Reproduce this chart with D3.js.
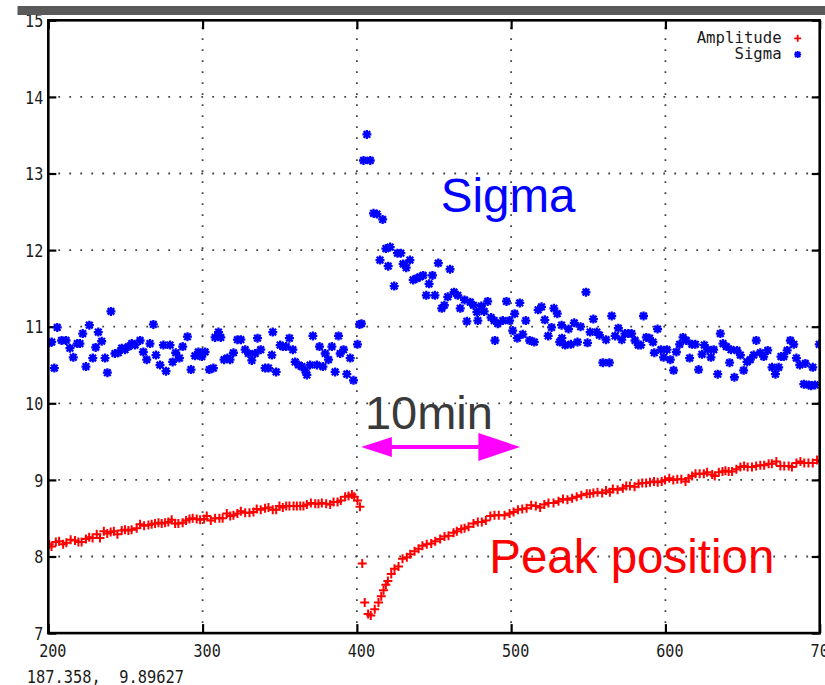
<!DOCTYPE html>
<html>
<head>
<meta charset="utf-8">
<script src="https://cdn.jsdelivr.net/npm/d3@7"></script>
<style>
  html, body { margin: 0; padding: 0; background: #fff; }
  svg { display: block; }
</style>
</head>
<body>
<div id="chart"></div>
<script>
// ticks
var xTicks = [200, 300, 400, 500, 600, 700];
var yTicks = [7, 8, 9, 10, 11, 12, 13, 14, 15];

// amplitude (peak position) before and after the jump at ~400
var amplitudeBefore = [
  [200.6,8.16],[202.1,8.13],[204.9,8.19],[207,8.2],[209.6,8.16],[211.7,8.18],[214.5,8.22],[217.3,8.21],
  [219.5,8.19],[221.6,8.19],[224.4,8.23],[226.5,8.25],[228.7,8.24],[231.4,8.29],[233.5,8.24],[236,8.33],
  [238.2,8.30],[240.4,8.32],[242.5,8.33],[244.8,8.29],[247.6,8.34],[249.7,8.35],[251.9,8.34],[254,8.35],
  [257.3,8.37],[259.5,8.42],[262.1,8.40],[264.9,8.41],[267,8.42],[269.2,8.43],[271.4,8.44],[273.5,8.43],
  [275.7,8.44],[277.8,8.45],[280,8.48],[282.2,8.43],[284.3,8.43],[287.1,8.44],[289.3,8.47],[291.5,8.49],
  [293.6,8.50],[296.2,8.49],[298.4,8.48],[301,8.49],[302.7,8.53],[305.3,8.47],[308.1,8.5],[310.9,8.5],
  [313,8.5],[315.7,8.56],[317.9,8.53],[320,8.54],[322.6,8.56],[324.8,8.59],[327.6,8.57],[330.4,8.57],
  [333,8.58],[335.1,8.62],[337.7,8.61],[340.5,8.63],[342.7,8.64],[345.5,8.61],[347.7,8.61],[349.8,8.66],
  [352,8.64],[354.2,8.66],[356.3,8.66],[359,8.66],[361.1,8.66],[363.3,8.66],[365.4,8.66],[367.6,8.68],
  [370.2,8.70],[373,8.69],[375.1,8.69],[377.3,8.70],[380.1,8.69],[382.7,8.68],[384.9,8.71],[387.5,8.71],
  [389.6,8.73],[392.4,8.78],[394.6,8.79],[396.8,8.81],[398.3,8.78],[400.4,8.73]
];
var amplitudeAfter = [
  [402,8.65],[403.5,7.91],[405.1,7.40],[407.3,7.25],[409,7.23],[411.6,7.31],[414,7.40],[415.8,7.48],
  [417.3,7.56],[418.8,7.63],[420.1,7.68],[422.3,7.77],[424.4,7.84],[427,7.87],[429.6,7.97],[432.4,7.99],
  [434.6,8.03],[437.4,8.07],[440,8.10],[442.5,8.14],[445.3,8.16],[448.2,8.17],[450.8,8.2],[454,8.23],
  [456.8,8.26],[459.4,8.27],[462.7,8.31],[464.8,8.33],[467.7,8.36],[469.8,8.37],[472.4,8.39],[475.6,8.43],
  [478.4,8.45],[481,8.45],[483.6,8.47],[486.5,8.53],[489.2,8.54],[492,8.54],[495.7,8.54],[499,8.56],
  [501.6,8.58],[504.4,8.61],[507.2,8.62],[510,8.63],[513,8.67],[516,8.66],[518.8,8.64],[521.5,8.68],
  [524.2,8.7],[527.5,8.70],[530.7,8.72],[533.6,8.75],[536.5,8.74],[539.5,8.76],[542.5,8.78],[545.5,8.8],
  [549,8.82],[551,8.82],[553.3,8.83],[556,8.84],[559,8.83],[561.5,8.86],[564,8.84],[565.9,8.88],
  [569,8.87],[572.4,8.89],[574.6,8.92],[577,8.92],[580,8.91],[582.6,8.95],[585,8.96],[587.5,8.96],
  [590,8.97],[592.6,8.98],[595,8.97],[597.6,8.98],[599.7,9.0],[602.5,9.02],[605.1,9.0],[607.7,9.01],
  [610.3,9.01],[613,8.98],[615,9.02],[617.3,9.05],[619.5,9.08],[622.2,9.08],[624.9,9.08],[627,9.1],
  [630.3,9.07],[632,9.05],[634.6,9.10],[637,9.11],[638.9,9.12],[641,9.11],[643.2,9.11],[646,9.14],
  [648.6,9.17],[651,9.18],[653.3,9.17],[656.1,9.17],[658.8,9.18],[661.5,9.19],[664,9.19],[666.9,9.21],
  [669,9.21],[671.9,9.24],[674.5,9.18],[677,9.18],[679.9,9.18],[682,9.17],[684.9,9.22],[687.5,9.24],
  [690,9.22],[692.7,9.22],[695.5,9.22],[698.3,9.26],[700.4,9.24]
];

// sigma
var sigmaBefore = [
  [200.6,10.79],[202.2,10.80],[203.9,10.46],[205.8,10.99],[208.6,10.82],[211.5,10.82],[214,10.72],[216.2,10.60],
  [218.8,10.78],[220.5,10.78],[222.3,10.91],[224.4,10.48],[226.6,11.02],[228.8,10.59],[230.7,10.73],[232.4,10.93],
  [234.6,10.81],[236.8,10.59],[238.3,10.40],[240.6,11.20],[243.2,10.65],[245.4,10.66],[247.6,10.72],[249.7,10.70],
  [251.9,10.74],[254.1,10.78],[256.2,10.76],[259.5,10.82],[261.6,10.67],[263.8,10.57],[265.9,10.78],[268.1,11.03],
  [269.8,10.63],[272.4,10.50],[274.6,10.76],[276.3,10.42],[278.9,10.76],[280.6,10.54],[282.6,10.66],[285,10.59],
  [287.1,10.74],[290.2,10.87],[292.5,10.44],[295.1,10.62],[297.3,10.67],[299.5,10.61],[301.6,10.67],[304.4,10.44],
  [307,10.46],[308.1,10.86],[310.3,10.93],[311.8,10.86],[313.9,10.57],[316.1,10.59],[317.8,10.57],[320,10.66],
  [322.6,10.83],[324.8,10.83],[327.6,10.70],[329.7,10.65],[331.9,10.56],[334.1,10.65],[335.6,10.85],[337.7,10.70],
  [340.5,10.46],[342.7,10.46],[344.9,10.63],[345.5,10.93],[347.7,10.41],[350.3,10.76],[352,10.74],[354.2,10.74],
  [356.3,10.85],[358.5,10.70],[360,10.54],[362.2,10.50],[364.3,10.48],[366.5,10.43],[367.6,10.37],[369.7,10.50],
  [371.5,10.88],[374.1,10.50],[375.8,10.74],[378,10.48],[379.5,10.65],[381.6,10.57],[383.8,10.74],[385.9,10.41],
  [388.1,10.88],[389.2,10.65],[391.4,10.70],[393.5,10.38],[395.7,10.59],[397.8,10.30],[400.4,10.77],[401.7,11.03]
];
var sigmaAfter = [
  [403,11.04],[404.3,13.17],[406.5,13.51],[408.7,13.17],[410.8,12.48],[413,12.47],[415,11.87],[416.7,12.40],
  [418.8,12.02],[420.3,11.79],[421.6,12.04],[424.2,11.53],[426.3,11.96],[428.5,11.96],[430,11.82],[432,11.77],
  [434.4,11.87],[436.5,11.61],[438.7,11.63],[440.8,11.65],[443,11.67],[445,11.41],[446.8,11.56],[449,11.67],
  [450.6,11.41],[452.8,11.83],[455,11.24],[456.7,11.28],[458.9,11.39],[460.4,11.75],[463,11.45],[465.4,11.41],
  [467,11.24],[469.8,11.35],[471.3,11.07],[473.5,11.32],[475.6,11.28],[477.8,11.19],[478.4,11.08],[480.7,11.27],
  [482.5,11.2],[484.8,11.33],[487,11.12],[489,11.08],[489.5,10.82],[491.3,11.04],[494.6,11.08],[497,11.33],
  [499,11.08],[501,10.95],[502.3,11.17],[504,10.85],[505.6,11.31],[507.5,10.9],[509.5,11.08],[512,10.82],
  [515,10.8],[517.5,11.22],[519.7,11.26],[521.8,11.09],[524,10.88],[526.2,10.99],[527.7,11.24],[529.9,11.17],
  [531.5,10.8],[532.7,11.02],[532.9,10.85],[535,10.76],[537.2,10.97],[538.7,10.77],[540.9,11.05],[543,10.8],
  [545,11.0],[548.5,11.45],[549.5,10.79],[551.2,10.93],[553.3,11.1],[555.5,10.93],[557.2,10.89],[559.4,10.53],
  [561.5,10.83],[563.7,10.53],[565.2,11.14],[567.4,10.88],[569.5,10.98],[571.7,10.83],[573.8,10.91],[576,10.91],
  [578.1,10.91],[580.3,10.82],[582.4,10.76],[584,10.76],[585.8,11.14],[587.6,10.86],[589.7,10.85],[591.9,10.8],
  [592.8,10.66],[594.9,10.97],[597.1,10.7],[598.8,10.6],[601,10.7],[603.2,10.57],[605.3,10.43],[607.1,10.67],
  [609.2,10.77],[611.4,10.86],[613.5,10.82],[615.7,10.59],[617.2,10.77],[619.4,10.77],[621.5,10.44],[623.7,10.64],
  [625.2,10.76],[627.4,10.7],[629.5,10.6],[631.3,10.7],[633.9,10.38],[635.6,10.91],[637.3,10.78],[639.5,10.74],
  [641.6,10.53],[642.5,10.7],[644.7,10.34],[646.4,10.69],[648.6,10.63],[650.7,10.43],[652.9,10.54],[655,10.57],
  [657.2,10.63],[658.9,10.82],[661.5,10.66],[663.7,10.61],[666.3,10.69],[669.1,10.47],[671.3,10.38],[673.4,10.47],
  [674.9,10.61],[676.7,10.61],[678.9,10.69],[681,10.82],[683.2,10.77],[684.9,10.59],[687.1,10.5],[689.7,10.25],
  [690.7,10.52],[692.9,10.24],[694.5,10.23],[695.5,10.47],[697,10.24],[699.7,10.77]
];

var legendLabels = ["Amplitude", "Sigma"];
var statusText = "187.358,  9.89627";

(function() {

    var width = 825, height = 685,
        left = 48.3, right = 819.7, top = 20.3, bottom = 633.1,
        monoFont = "'DejaVu Sans Mono', monospace",
        sansFont = "'Liberation Sans', Arial, sans-serif",
        red = "#ff0000", blue = "#0000ff";

    var x = d3.scaleLinear().domain([200, 700]).range([left, right]);
    var y = d3.scaleLinear().domain([7, 15]).range([bottom, top]);

    var svg = d3.select("#chart").append("svg")
        .attr("width", width)
        .attr("height", height)
        .style("background", "#fff");

    svg.append("defs").append("clipPath").attr("id", "plotClip")
        .append("rect")
        .attr("x", left).attr("y", top)
        .attr("width", right - left).attr("height", bottom - top);

    // dotted grid
    var grid = svg.append("g").attr("class", "grid")
        .style("stroke", "#444")
        .style("stroke-width", 1.8)
        .style("stroke-dasharray", "1.8,9.2");

    grid.selectAll("line.gx")
        .data(xTicks.slice(1, -1))
        .enter().append("line")
        .attr("class", "gx")
        .attr("x1", function(d) { return x(d); })
        .attr("x2", function(d) { return x(d); })
        .attr("y1", bottom - 10)
        .attr("y2", top);

    grid.selectAll("line.gy")
        .data(yTicks.slice(1, -1))
        .enter().append("line")
        .attr("class", "gy")
        .attr("x1", left + 10)
        .attr("x2", right)
        .attr("y1", function(d) { return y(d); })
        .attr("y2", function(d) { return y(d); });

    // axes, ticks pointing inward like gnuplot
    function styleAxis(g) {
        g.select(".domain").remove();
        g.selectAll(".tick line").attr("stroke", "#000").attr("stroke-width", 2.2);
    }

    var xAxis = svg.append("g")
        .attr("transform", "translate(0," + bottom + ")")
        .call(d3.axisBottom(x).tickValues(xTicks).tickSize(-9).tickPadding(10))
        .call(styleAxis);
    xAxis.selectAll(".tick text")
        .attr("dx", 4)
        .attr("y", 12)
        .attr("dy", "0.72em");

    svg.append("g")
        .attr("transform", "translate(0," + top + ")")
        .call(d3.axisTop(x).tickValues(xTicks).tickSize(-9).tickFormat(""))
        .call(styleAxis);

    var yAxis = svg.append("g")
        .attr("transform", "translate(" + left + ",0)")
        .call(d3.axisLeft(y).tickValues(yTicks).tickSize(-8).tickPadding(5))
        .call(styleAxis);
    yAxis.selectAll(".tick text").attr("x", -5).attr("dy", "0.36em");

    svg.append("g")
        .attr("transform", "translate(" + right + ",0)")
        .call(d3.axisRight(y).tickValues(yTicks).tickSize(-8).tickFormat(""))
        .call(styleAxis);

    svg.selectAll(".tick text")
        .style("font-family", monoFont)
        .style("font-size", "17px")
        .attr("fill", "#1a1a1a")
        .attr("textLength", function() { return 9.1 * this.textContent.length; })
        .attr("lengthAdjust", "spacingAndGlyphs");

    // markers
    var plusPath = "M-4.5,0H4.5M0,-4.5V4.5";
    var starPath = "M-4.5,0H4.5M0,-4.5V4.5M-3.3,-3.3L3.3,3.3M-3.3,3.3L3.3,-3.3";

    var plot = svg.append("g").attr("clip-path", "url(#plotClip)");

    function drawPoints(data, path, color, sw) {
        plot.append("g").selectAll("path")
            .data(data)
            .enter().append("path")
            .attr("transform", function(d) { return "translate(" + x(d[0]) + "," + y(d[1]) + ")"; })
            .attr("d", path)
            .attr("fill", "none")
            .attr("stroke", color)
            .attr("stroke-width", sw);
    }

    drawPoints(amplitudeBefore.concat(amplitudeAfter), plusPath, red, 2);
    drawPoints(sigmaBefore.concat(sigmaAfter), starPath, blue, 2.3);

    // frame
    svg.append("rect")
        .attr("x", left).attr("y", top)
        .attr("width", right - left).attr("height", bottom - top)
        .attr("fill", "none")
        .attr("stroke", "#000")
        .attr("stroke-width", 2.6);

    // legend
    var legend = svg.append("g").attr("transform", "translate(781.7,0)");
    legend.selectAll("text")
        .data(legendLabels)
        .enter().append("text")
        .attr("x", 0)
        .attr("y", function(d, i) { return 42.7 + i * 16.3; })
        .attr("text-anchor", "end")
        .style("font-family", monoFont)
        .style("font-size", "15px")
        .attr("fill", "#1a1a1a")
        .attr("textLength", function(d) { return 9.45 * d.length; })
        .attr("lengthAdjust", "spacingAndGlyphs")
        .text(function(d) { return d; });
    legend.append("path")
        .attr("transform", "translate(16,38.3)")
        .attr("d", "M-3.5,0H3.5M0,-3.5V3.5")
        .attr("stroke", red).attr("stroke-width", 1.8);
    legend.append("path")
        .attr("transform", "translate(16,54.5)")
        .attr("d", "M-3.5,0H3.5M0,-3.5V3.5M-2.6,-2.6L2.6,2.6M-2.6,2.6L2.6,-2.6")
        .attr("stroke", blue).attr("stroke-width", 1.8);

    // annotations (placed in data units)
    svg.append("text")
        .attr("x", x(454.4)).attr("y", y(12.5))
        .style("font-family", sansFont).style("font-size", "47.5px")
        .attr("fill", blue)
        .text("Sigma");

    svg.append("text")
        .attr("x", x(405.2)).attr("y", y(9.66))
        .style("font-family", sansFont).style("font-size", "47px")
        .attr("fill", "#3a3a3a")
        .text("10min");

    svg.append("text")
        .attr("x", x(485.8)).attr("y", y(7.78))
        .style("font-family", sansFont).style("font-size", "47.5px")
        .attr("fill", red)
        .text("Peak position");

    // magenta double arrow, 402.8 -> 505.8
    var ay = y(9.43), ax0 = x(402.8), ax1 = x(505.8);
    var arrow = svg.append("g").attr("fill", "#ff00ff");
    arrow.append("line")
        .attr("x1", ax0 + 28).attr("x2", ax1 - 40)
        .attr("y1", ay).attr("y2", ay)
        .attr("stroke", "#ff00ff").attr("stroke-width", 4);
    arrow.append("path")
        .attr("d", "M" + ax0 + "," + ay + "L" + (ax0 + 30.7) + "," + (ay - 10) +
                   "L" + (ax0 + 30.7) + "," + (ay + 10) + "Z");
    arrow.append("path")
        .attr("d", "M" + ax1 + "," + ay + "L" + (ax1 - 41.7) + "," + (ay - 14) +
                   "L" + (ax1 - 41.7) + "," + (ay + 14) + "Z");

    // status line at the bottom
    svg.append("text")
        .attr("x", 26.7).attr("y", 682.7)
        .style("font-family", monoFont).style("font-size", "17px")
        .style("white-space", "pre")
        .attr("xml:space", "preserve")
        .attr("fill", "#1a1a1a")
        .attr("textLength", 157.3)
        .attr("lengthAdjust", "spacingAndGlyphs")
        .text(statusText);

    // dark bar across the top (window chrome), drawn last so it covers "15"
    svg.append("rect")
        .attr("x", 17.5).attr("y", 6)
        .attr("width", width - 17.5).attr("height", 9)
        .attr("fill", "#5a5a5a");

})();
</script>
</body>
</html>
